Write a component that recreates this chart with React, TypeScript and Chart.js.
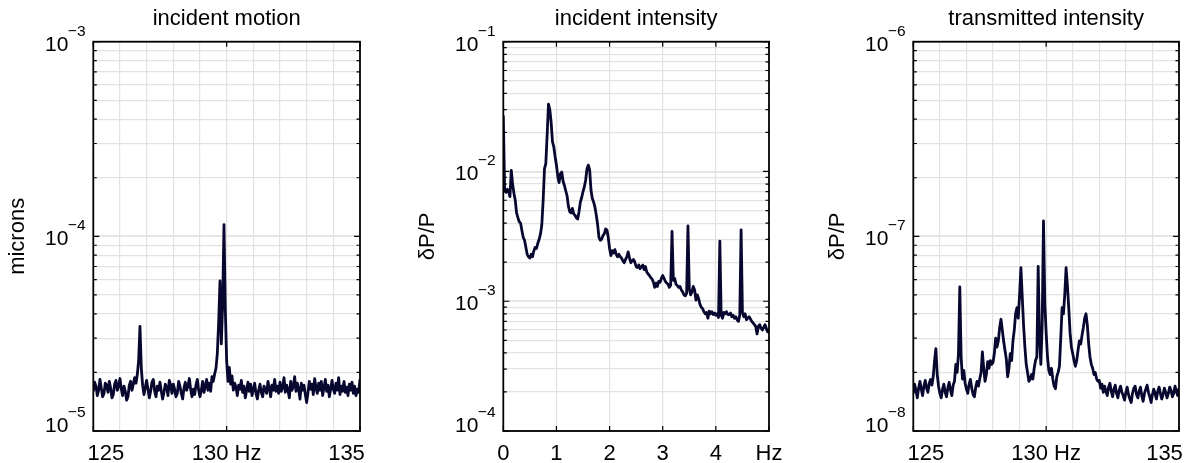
import React, { useEffect, useRef } from 'react';
import { Chart, registerables } from 'chart.js';

Chart.register(...registerables);

const PAGE_W = 1188;
const PAGE_H = 463;
const FONT_FAMILY = "'Liberation Sans', Arial, Helvetica, sans-serif";
const TRACE_COLOR = '#07072f';
const GRID_COLOR = '#e2e2e2';

// ---------- incident motion (microns), 125–135 Hz, values in units of 1e-5 ----------
const motionFreqStart = 125;
const motionFreqStep = 0.05;
const motionUnit = 1e-5;
const motionValues = [
  1.60, 1.78, 1.70, 1.52, 1.62, 1.84, 1.66, 1.50, 1.56, 1.76,
  1.72, 1.58, 1.80, 1.66, 1.48, 1.54, 1.74, 1.82, 1.62, 1.70,
  1.86, 1.64, 1.52, 1.70, 1.60, 1.44, 1.50, 1.72, 1.80, 1.62,
  1.74, 1.88, 1.76, 1.95, 2.30, 3.45, 2.10, 1.72, 1.54, 1.68,
  1.82, 1.64, 1.48, 1.60, 1.78, 1.84, 1.60, 1.50, 1.70, 1.62,
  1.78, 1.60, 1.46, 1.58, 1.74, 1.68, 1.52, 1.82, 1.72, 1.56,
  1.74, 1.64, 1.50, 1.56, 1.80, 1.70, 1.56, 1.46, 1.66, 1.78,
  1.62, 1.70, 1.86, 1.64, 1.50, 1.64, 1.54, 1.72, 1.84, 1.62,
  1.50, 1.62, 1.80, 1.58, 1.70, 1.84, 1.62, 1.76, 1.60, 1.90,
  1.80, 1.96, 2.10, 2.50, 3.60, 5.90, 2.80, 4.50, 11.5, 4.20,
  2.30, 1.80, 2.12, 1.74, 1.92, 1.62, 1.76, 1.68, 1.52, 1.72,
  1.64, 1.82, 1.58, 1.70, 1.48, 1.62, 1.78, 1.60, 1.74, 1.52,
  1.64, 1.76, 1.56, 1.46, 1.62, 1.74, 1.58, 1.50, 1.70, 1.64,
  1.56, 1.80, 1.66, 1.50, 1.72, 1.62, 1.84, 1.60, 1.70, 1.56,
  1.78, 1.60, 1.68, 1.88, 1.58, 1.72, 1.62, 1.48, 1.80, 1.62,
  1.70, 1.90, 1.60, 1.76, 1.64, 1.46, 1.76, 1.62, 1.72, 1.54,
  1.40, 1.58, 1.80, 1.64, 1.74, 1.54, 1.86, 1.66, 1.56, 1.76,
  1.62, 1.80, 1.52, 1.68, 1.84, 1.60, 1.72, 1.50, 1.64, 1.82,
  1.64, 1.56, 1.76, 1.62, 1.88, 1.54, 1.70, 1.60, 1.80, 1.58,
  1.68, 1.52, 1.74, 1.62, 1.78, 1.56, 1.70, 1.52, 1.64, 1.58,
  1.84,
];
const motionXGrid = [126, 127, 128, 129, 130, 131, 132, 133, 134];
const motionXTicks = [125, 130, 135];
const motionXLabels = ['125', '130 Hz', '135'];
const motionYDecades = [-5, -4, -3];

// ---------- incident intensity (dP/P), 0–5 Hz, values in units of 1e-3 ----------
const intensityFreqStart = 0;
const intensityFreqStep = 0.025;
const intensityUnit = 1e-3;
const intensityValues = [
  27, 7.2, 6.9, 7.3, 7.0, 6.4, 10.2, 8.0, 6.8, 6.0,
  4.8, 4.4, 4.1, 4.0, 3.5, 3.1, 2.95, 2.6, 2.3, 2.2,
  2.15, 2.3, 2.2, 2.45, 2.6, 2.55, 2.8, 3.0, 3.3, 3.9,
  6.0, 10.5, 11.5, 19, 33, 30, 24, 17, 15.5, 13,
  11.2, 9.2, 8.2, 9.6, 9.9, 8.4, 7.8, 7.1, 6.5, 5.4,
  4.9, 4.8, 5.2, 4.7, 4.6, 4.4, 4.3, 4.9, 5.8, 6.3,
  7.0, 7.6, 8.6, 10.5, 11.2, 10.3, 7.2, 6.2, 5.8, 5.3,
  4.6, 3.9, 3.1, 2.95, 3.0, 3.2, 3.3, 3.6, 3.55, 3.1,
  2.55, 2.25, 2.45, 2.35, 2.5, 2.3, 2.2, 2.3, 2.2, 2.15,
  2.05, 1.98, 2.1, 2.2, 2.4, 2.15, 1.98, 2.05, 2.1, 2.0,
  1.85, 1.82, 1.9, 1.78, 1.85, 1.9, 1.75, 1.85, 1.68, 1.62,
  1.58, 1.52, 1.48, 1.40, 1.28, 1.38, 1.30, 1.42, 1.40, 1.50,
  1.58, 1.50, 1.42, 1.38, 1.35, 1.28, 1.33, 3.45, 1.45, 1.50,
  1.35, 1.32, 1.28, 1.30, 1.22, 1.18, 1.12, 1.10, 1.15, 3.8,
  1.25, 1.12, 1.18, 1.30, 1.22, 1.02, 1.12, 1.05, 0.95, 0.90,
  0.88, 0.83, 0.80, 0.82, 0.74, 0.84, 0.80, 0.83, 0.79, 0.81,
  0.78, 0.80, 0.75, 2.9, 0.78, 0.74, 0.82, 0.80, 0.83, 0.79,
  0.79, 0.81, 0.76, 0.78, 0.74, 0.76, 0.72, 0.70, 0.78, 3.55,
  0.82, 0.76, 0.80, 0.72, 0.74, 0.76, 0.73, 0.70, 0.68, 0.66,
  0.64, 0.56, 0.64, 0.66, 0.62, 0.60, 0.63, 0.66, 0.62, 0.58,
  0.60,
];
const intensityXGrid = [1, 2, 3, 4];
const intensityXTicks = [0, 1, 2, 3, 4, 5];
const intensityXLabels = ['0', '1', '2', '3', '4', 'Hz'];
const intensityYDecades = [-4, -3, -2, -1];

// ---------- transmitted intensity (dP/P), 125–135 Hz, values in units of 1e-8 ----------
const transmittedFreqStart = 125;
const transmittedFreqStep = 0.05;
const transmittedUnit = 1e-8;
const transmittedValues = [
  1.56, 1.74, 1.62, 1.48, 1.66, 1.80, 1.64, 1.52, 1.70, 1.82,
  1.66, 1.58, 1.76, 1.84, 1.72, 1.90, 2.30, 2.65, 1.95, 1.70,
  1.56, 1.48, 1.64, 1.74, 1.58, 1.50, 1.66, 1.78, 1.62, 1.52,
  1.72, 1.80, 2.20, 2.00, 2.50, 5.50, 2.40, 1.85, 2.05, 1.76,
  1.64, 1.56, 1.74, 1.84, 1.66, 1.54, 1.50, 1.68, 1.80, 1.70,
  1.85, 2.00, 2.55, 2.10, 1.80, 1.95, 2.27, 2.10, 2.30, 2.20,
  2.25, 2.50, 3.00, 2.70, 2.90, 3.40, 3.75, 3.30, 2.90, 2.60,
  2.35, 1.90, 2.10, 2.50, 2.30, 2.90, 3.30, 4.00, 4.30, 3.80,
  5.00, 6.90, 4.90, 3.50, 2.70, 2.20, 2.00, 1.80, 1.85, 1.95,
  1.85, 2.10, 2.30, 2.40, 7.00, 3.00, 2.20, 3.50, 12.0, 4.50,
  3.20, 2.40, 2.05, 1.95, 2.10, 1.85, 1.70, 1.65, 1.90, 2.00,
  2.15, 3.00, 4.30, 4.00, 5.00, 6.90, 5.60, 4.30, 3.20, 2.70,
  2.50, 2.30, 2.15, 2.30, 2.60, 2.90, 2.80, 3.10, 3.40, 3.80,
  4.00, 3.50, 2.80, 2.40, 2.20, 2.10, 1.95, 2.00, 1.85, 1.80,
  1.82, 1.66, 1.74, 1.58, 1.70, 1.60, 1.52, 1.68, 1.76, 1.60,
  1.50, 1.64, 1.72, 1.56, 1.48, 1.62, 1.70, 1.58, 1.52, 1.44,
  1.58, 1.68, 1.54, 1.46, 1.40, 1.56, 1.66, 1.70, 1.54, 1.48,
  1.60, 1.68, 1.52, 1.42, 1.56, 1.64, 1.72, 1.58, 1.50, 1.40,
  1.54, 1.64, 1.56, 1.46, 1.60, 1.68, 1.56, 1.46, 1.54, 1.66,
  1.58, 1.48, 1.56, 1.68, 1.62, 1.50, 1.56, 1.70, 1.60, 1.52,
  1.66,
];
const transmittedXGrid = [126, 127, 128, 129, 130, 131, 132, 133, 134];
const transmittedXTicks = [125, 130, 135];
const transmittedXLabels = ['125', '130 Hz', '135'];
const transmittedYDecades = [-8, -7, -6];

type Area = { left: number; right: number; top: number; bottom: number };
type Panel = {
  title: string;
  yTitle: string;
  freqStart: number;
  freqStep: number;
  unit: number;
  values: number[];
  xGrid: number[];
  xTicks: number[];
  xLabels: string[];
  yDecades: number[];
  area: Area;
  labelShift: number[];
};

const panels: Panel[] = [
  {
    title: 'incident motion',
    yTitle: 'microns',
    freqStart: motionFreqStart,
    freqStep: motionFreqStep,
    unit: motionUnit,
    values: motionValues,
    xGrid: motionXGrid,
    xTicks: motionXTicks,
    xLabels: motionXLabels,
    yDecades: motionYDecades,
    area: { left: 93.3, right: 360, top: 41.7, bottom: 431 },
    labelShift: [12.5, 0, -13.5],
  },
  {
    title: 'incident intensity',
    yTitle: '\u03B4P/P',
    freqStart: intensityFreqStart,
    freqStep: intensityFreqStep,
    unit: intensityUnit,
    values: intensityValues,
    xGrid: intensityXGrid,
    xTicks: intensityXTicks,
    xLabels: intensityXLabels,
    yDecades: intensityYDecades,
    area: { left: 503.3, right: 769, top: 41.7, bottom: 431 },
    labelShift: [0, 0, 0, 0, 0, 0],
  },
  {
    title: 'transmitted intensity',
    yTitle: '\u03B4P/P',
    freqStart: transmittedFreqStart,
    freqStep: transmittedFreqStep,
    unit: transmittedUnit,
    values: transmittedValues,
    xGrid: transmittedXGrid,
    xTicks: transmittedXTicks,
    xLabels: transmittedXLabels,
    yDecades: transmittedYDecades,
    area: { left: 913.3, right: 1179, top: 41.7, bottom: 431 },
    labelShift: [12.5, 0, -14.5],
  },
];

function logGrid(decades: number[]): number[] {
  const out: number[] = [];
  for (let k = 0; k < decades.length - 1; k++) {
    const base = Math.pow(10, decades[k]);
    for (let m = 1; m < 10; m++) out.push(m * base);
  }
  out.push(Math.pow(10, decades[decades.length - 1]));
  return out;
}

function isDecade(v: number): boolean {
  const l = Math.log10(v);
  return Math.abs(l - Math.round(l)) < 1e-6;
}

function framePlugin(p: Panel, yGrid: number[]) {
  return {
    id: 'frameAndLabels',
    afterDraw(chart: any) {
      const { ctx, chartArea: a, scales } = chart;
      const xs = scales.x;
      const ys = scales.y;
      ctx.save();
      // inward tick marks
      ctx.strokeStyle = '#000';
      ctx.lineWidth = 1.2;
      ctx.beginPath();
      for (const v of yGrid) {
        const y = ys.getPixelForValue(v);
        const len = isDecade(v) ? 6 : 3.5;
        ctx.moveTo(a.left, y);
        ctx.lineTo(a.left + len, y);
        ctx.moveTo(a.right, y);
        ctx.lineTo(a.right - len, y);
      }
      for (const v of p.xTicks) {
        const x = xs.getPixelForValue(v);
        ctx.moveTo(x, a.bottom);
        ctx.lineTo(x, a.bottom - 5);
        ctx.moveTo(x, a.top);
        ctx.lineTo(x, a.top + 5);
      }
      ctx.stroke();
      // box
      ctx.lineWidth = 1.8;
      ctx.strokeRect(a.left, a.top, a.right - a.left, a.bottom - a.top);

      ctx.fillStyle = '#000';
      ctx.textBaseline = 'alphabetic';
      // x tick labels
      ctx.font = `22px ${FONT_FAMILY}`;
      ctx.textAlign = 'center';
      p.xTicks.forEach((v, i) => {
        ctx.fillText(p.xLabels[i], xs.getPixelForValue(v) + p.labelShift[i], a.bottom + 29);
      });
      // y tick labels 10^n
      p.yDecades.forEach((e, k) => {
        const y = ys.getPixelForValue(Math.pow(10, e));
        const base = k === 0 ? y + 1 : y + 8.8;
        const sup = '\u2212' + Math.abs(e);
        ctx.textAlign = 'right';
        ctx.font = `15.5px ${FONT_FAMILY}`;
        const supRight = a.left - 7.8;
        ctx.fillText(sup, supRight, base - 14.8);
        const supW = ctx.measureText(sup).width;
        ctx.font = `21px ${FONT_FAMILY}`;
        ctx.fillText('10', supRight - supW + 0.5, base);
      });
      // title
      ctx.font = `22px ${FONT_FAMILY}`;
      ctx.textAlign = 'center';
      ctx.fillText(p.title, (a.left + a.right) / 2, 25);
      // y-axis title
      ctx.translate(a.left - 69.5, (a.top + a.bottom) / 2);
      ctx.rotate(-Math.PI / 2);
      ctx.fillText(p.yTitle, 0, 0);
      ctx.restore();
    },
  };
}

function SpectrumPanel({ panel }: { panel: Panel }) {
  const ref = useRef<HTMLCanvasElement>(null);
  useEffect(() => {
    const p = panel;
    const yGrid = logGrid(p.yDecades);
    const points = p.values.map((v, i) => ({ x: p.freqStart + i * p.freqStep, y: v * p.unit }));
    const chart = new Chart(ref.current as HTMLCanvasElement, {
      type: 'line',
      data: {
        datasets: [
          {
            data: points,
            borderColor: TRACE_COLOR,
            borderWidth: 2.8,
            pointRadius: 0,
            tension: 0,
            fill: false,
            borderJoinStyle: 'round',
          },
        ],
      },
      options: {
        animation: false,
        responsive: false,
        events: [],
        layout: {
          padding: {
            left: p.area.left,
            right: PAGE_W - p.area.right,
            top: p.area.top,
            bottom: PAGE_H - p.area.bottom,
          },
        },
        plugins: {
          legend: { display: false },
          tooltip: { enabled: false },
          title: { display: false },
        },
        scales: {
          x: {
            type: 'linear',
            min: p.xTicks[0],
            max: p.xTicks[p.xTicks.length - 1],
            afterBuildTicks: (s: any) => {
              s.ticks = p.xGrid.map((v) => ({ value: v }));
            },
            ticks: { display: false },
            grid: { color: GRID_COLOR, lineWidth: 1.2, drawTicks: false },
            border: { display: false },
          },
          y: {
            type: 'logarithmic',
            min: Math.pow(10, p.yDecades[0]),
            max: Math.pow(10, p.yDecades[p.yDecades.length - 1]),
            afterBuildTicks: (s: any) => {
              s.ticks = yGrid.map((v) => ({ value: v }));
            },
            ticks: { display: false },
            grid: {
              color: GRID_COLOR,
              lineWidth: (c: any) => (c.tick && isDecade(c.tick.value) ? 1.8 : 1.2),
              drawTicks: false,
            },
            border: { display: false },
          },
        },
      } as any,
      plugins: [framePlugin(p, yGrid)],
    });
    return () => chart.destroy();
  }, [panel]);
  return (
    <canvas
      ref={ref}
      width={PAGE_W}
      height={PAGE_H}
      style={{ position: 'absolute', left: 0, top: 0, width: PAGE_W, height: PAGE_H }}
    />
  );
}

export default function App() {
  return (
    <div
      style={{
        position: 'fixed',
        left: 0,
        top: 0,
        width: PAGE_W,
        height: PAGE_H,
        background: '#ffffff',
        overflow: 'hidden',
      }}
    >
      {panels.map((p, i) => (
        <SpectrumPanel key={i} panel={p} />
      ))}
    </div>
  );
}
